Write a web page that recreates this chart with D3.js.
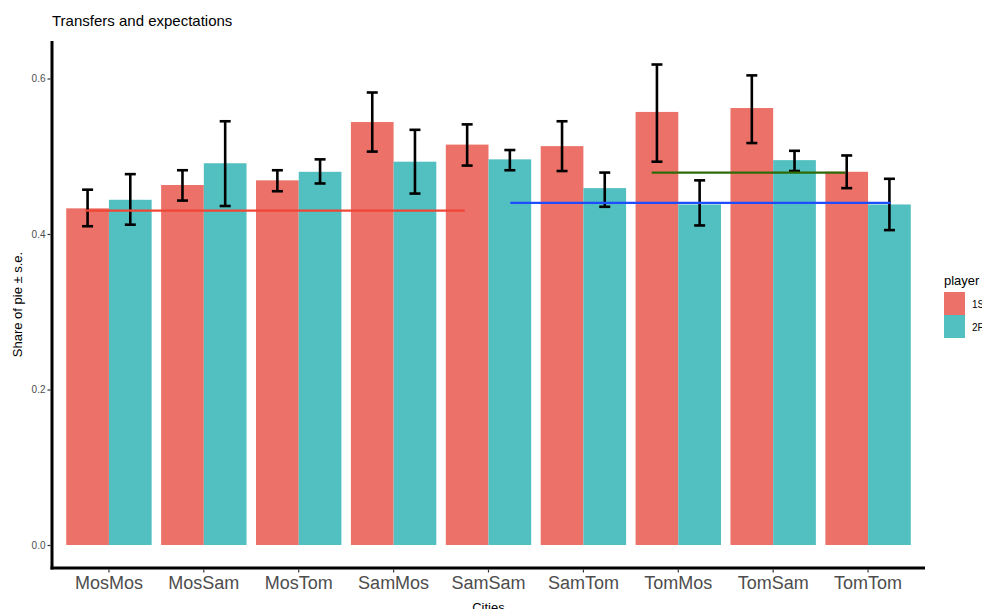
<!DOCTYPE html>
<html>
<head>
<meta charset="utf-8">
<script src="https://cdn.jsdelivr.net/npm/d3@7"></script>
<style>
  html, body { margin: 0; padding: 0; background: #fff; }
  svg { display: block; }
  text { font-family: "Liberation Sans", Arial, sans-serif; }
</style>
</head>
<body>
<svg id="chart" width="982" height="609"></svg>
<script>
// ---- data ----
const categories = ["MosMos","MosSam","MosTom","SamMos","SamSam","SamTom","TomMos","TomSam","TomTom"];
const players = ["1S","2P"];
const mean1S = [0.433, 0.463, 0.469, 0.544, 0.515, 0.513, 0.557, 0.562, 0.480];
const lo1S   = [0.410, 0.443, 0.455, 0.506, 0.488, 0.481, 0.493, 0.517, 0.459];
const hi1S   = [0.457, 0.482, 0.482, 0.582, 0.541, 0.545, 0.618, 0.604, 0.501];
const mean2P = [0.444, 0.491, 0.480, 0.493, 0.496, 0.459, 0.438, 0.495, 0.438];
const lo2P   = [0.412, 0.436, 0.465, 0.452, 0.482, 0.435, 0.411, 0.481, 0.405];
const hi2P   = [0.477, 0.545, 0.496, 0.534, 0.508, 0.479, 0.469, 0.507, 0.471];
const yTicks = [0.0, 0.2, 0.4, 0.6];
// reference segments (x in category units, 1 = first category)
const segX0 = [0.75, 5.23, 6.72];
const segX1 = [4.75, 9.24, 8.76];
const segY  = [0.43, 0.44, 0.479];
const segColor = ["#EF4636", "#1D4DFF", "#2E6A08"];

const colors = { "1S": "#EC7169", "2P": "#52BFC0" };

const svg = d3.select("#chart");
const panel = { left: 52, right: 925, top: 41, bottom: 568 };

const x = d3.scaleBand().domain(categories)
  .range([panel.left, panel.right]).paddingInner(0.1).paddingOuter(0.15);
const xDodge = d3.scaleBand().domain(players).range([0, x.bandwidth()]);
const xUnit = d3.scaleLinear().domain([1, categories.length])
  .range([x(categories[0]) + x.bandwidth()/2, x(categories[categories.length-1]) + x.bandwidth()/2]);
const y = d3.scaleLinear().domain([0, 0.6]).range([545, 78.5]);

const rows = [];
categories.forEach((c, i) => {
  rows.push({cat: c, player: "1S", mean: mean1S[i], lo: lo1S[i], hi: hi1S[i]});
  rows.push({cat: c, player: "2P", mean: mean2P[i], lo: lo2P[i], hi: hi2P[i]});
});

// bars
svg.append("g").selectAll("rect").data(rows).join("rect")
  .attr("x", d => x(d.cat) + xDodge(d.player))
  .attr("width", xDodge.bandwidth())
  .attr("y", d => y(d.mean))
  .attr("height", d => y(0) - y(d.mean))
  .attr("fill", d => colors[d.player]);

// error bars
const eb = svg.append("g").attr("stroke", "#000").attr("stroke-width", 2.6).attr("fill", "none");
const cap = 5.5;
rows.forEach(d => {
  const cx = x(d.cat) + xDodge(d.player) + xDodge.bandwidth()/2;
  eb.append("line").attr("x1", cx).attr("x2", cx).attr("y1", y(d.lo)).attr("y2", y(d.hi));
  eb.append("line").attr("x1", cx - cap).attr("x2", cx + cap).attr("y1", y(d.lo)).attr("y2", y(d.lo));
  eb.append("line").attr("x1", cx - cap).attr("x2", cx + cap).attr("y1", y(d.hi)).attr("y2", y(d.hi));
});

// reference segments
segY.forEach((v, i) => {
  svg.append("line")
    .attr("x1", xUnit(segX0[i])).attr("x2", xUnit(segX1[i]))
    .attr("y1", y(v)).attr("y2", y(v))
    .attr("stroke", segColor[i]).attr("stroke-width", 2.2);
});

// axes lines
svg.append("line").attr("x1", panel.left).attr("x2", panel.left)
  .attr("y1", panel.top).attr("y2", panel.bottom + 1.5)
  .attr("stroke", "#000").attr("stroke-width", 3);
svg.append("line").attr("x1", panel.left - 1.5).attr("x2", panel.right)
  .attr("y1", panel.bottom).attr("y2", panel.bottom)
  .attr("stroke", "#000").attr("stroke-width", 3);

// y axis ticks
const yAxis = svg.append("g").attr("transform", `translate(${panel.left - 1.5},0)`)
  .call(d3.axisLeft(y).tickValues(yTicks).tickFormat(d3.format(".1f")).tickSize(3).tickPadding(2));
yAxis.select(".domain").remove();
yAxis.selectAll(".tick line").attr("stroke", "#333").attr("stroke-width", 1.2);
yAxis.selectAll(".tick text").attr("fill", "#4D4D4D").style("font-size", "10px")
  .style("font-family", "'Liberation Sans', Arial, sans-serif");

// x axis ticks
const xAxis = svg.append("g").attr("transform", `translate(0,${panel.bottom + 1.5})`)
  .call(d3.axisBottom(x).tickSize(3).tickPadding(4));
xAxis.select(".domain").remove();
xAxis.selectAll(".tick line").attr("stroke", "#333").attr("stroke-width", 1.2);
xAxis.selectAll(".tick text").attr("fill", "#4D4D4D").style("font-size", "18px")
  .style("font-family", "'Liberation Sans', Arial, sans-serif");

// titles
svg.append("text").attr("x", 52).attr("y", 26).text("Transfers and expectations")
  .style("font-size", "15px").attr("fill", "#000");
svg.append("text").attr("x", (panel.left + panel.right)/2).attr("y", 612)
  .attr("text-anchor", "middle").text("Cities").style("font-size", "13px").attr("fill", "#000");
svg.append("text").attr("transform", `translate(22,${(panel.top + panel.bottom)/2}) rotate(-90)`)
  .attr("text-anchor", "middle").text("Share of pie ± s.e.").style("font-size", "13px").attr("fill", "#000");

// legend
const lg = svg.append("g").attr("transform", "translate(944,0)");
lg.append("text").attr("x", 0).attr("y", 285).text("player").style("font-size", "13px").attr("fill", "#000");
players.forEach((p, i) => {
  lg.append("rect").attr("x", 0).attr("y", 292 + i * 23).attr("width", 21).attr("height", 23)
    .attr("fill", colors[p]);
  lg.append("text").attr("x", 28).attr("y", 308 + i * 23).text(p)
    .style("font-size", "10px").attr("fill", "#000");
});
</script>
</body>
</html>
